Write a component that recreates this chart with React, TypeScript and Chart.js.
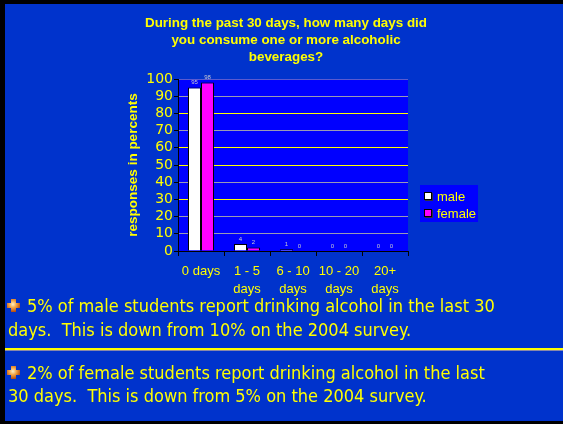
import React, { useEffect, useRef } from "react";
import { Chart, registerables } from "chart.js";

Chart.register(...registerables);

const categories: string[][] = [["0 days"], ["1 - 5", "days"], ["6 - 10", "days"], ["10 - 20", "days"], ["20+", "days"]];
const maleValues = [95, 4, 1, 0, 0];
const femaleValues = [98, 2, 0, 0, 0];
const seriesNames = ["male", "female"];
const titleLines = [
  "During the past 30 days, how many days did",
  "you consume one or more alcoholic",
  "beverages?",
];
const yAxisTitle = "responses in percents";
const yMin = 0;
const yMax = 100;
const yStep = 10;
const bullet1Lines = [
  "5% of male students report drinking alcohol in the last 30",
  "days.  This is down from 10% on the 2004 survey.",
];
const bullet2Lines = [
  "2% of female students report drinking alcohol in the last",
  "30 days.  This is down from 5% on the 2004 survey.",
];

const YELLOW = "#FFFF00";
const gridColorFor = (v: number) => {
  if (v === 0) return "rgba(0,0,0,0)";
  if (v === 100) return "#5A5AD0";
  if (v === 30 || v === 50 || v === 60 || v === 80) return "#FFFF00";
  return "#9A9AB4";
};

const bgPlugin = {
  id: "plotBg",
  beforeDraw(chart: any) {
    const { ctx, chartArea } = chart;
    ctx.save();
    ctx.fillStyle = "#0000FF";
    ctx.fillRect(chartArea.left, chartArea.top, chartArea.right - chartArea.left, chartArea.bottom - chartArea.top);
    ctx.restore();
  },
};

const valueLabelPlugin = {
  id: "valueLabels",
  afterDatasetsDraw(chart: any) {
    const { ctx } = chart;
    ctx.save();
    ctx.font = "6px 'Liberation Sans', Arial, sans-serif";
    ctx.fillStyle = "#C8C8D0";
    ctx.textAlign = "center";
    ctx.textBaseline = "middle";
    chart.data.datasets.forEach((ds: any, i: number) => {
      const meta = chart.getDatasetMeta(i);
      meta.data.forEach((bar: any, j: number) => {
        ctx.fillText(String(ds.data[j]), bar.x, bar.y - 5);
      });
    });
    ctx.restore();
  },
};

const titlePlugin = {
  id: "customTitle",
  afterDraw(chart: any) {
    const { ctx } = chart;
    ctx.save();
    ctx.font = "bold 13.4px 'Liberation Sans', Arial, sans-serif";
    ctx.fillStyle = YELLOW;
    ctx.textAlign = "center";
    ctx.textBaseline = "middle";
    titleLines.forEach((t, i) => ctx.fillText(t, 286, 23 + i * 17));
    ctx.restore();
  },
};

const legendPlugin = {
  id: "customLegend",
  afterDraw(chart: any) {
    const { ctx } = chart;
    const bx = 420, by = 185, bw = 58, bh = 37;
    ctx.save();
    ctx.fillStyle = "#0000FF";
    ctx.fillRect(bx, by, bw, bh);
    ctx.font = "13px 'Liberation Sans', Arial, sans-serif";
    ctx.textBaseline = "middle";
    ctx.textAlign = "left";
    chart.data.datasets.forEach((ds: any, i: number) => {
      const cy = by + 11 + i * 17;
      ctx.fillStyle = "#303040";
      ctx.fillRect(bx + 5, cy - 3, 8, 8);
      ctx.fillStyle = ds.backgroundColor;
      ctx.fillRect(bx + 4, cy - 4, 8, 8);
      ctx.strokeStyle = "#000";
      ctx.lineWidth = 1;
      ctx.strokeRect(bx + 4.5, cy - 3.5, 7, 7);
      ctx.fillStyle = YELLOW;
      ctx.fillText(ds.label, bx + 17, cy + 1);
    });
    ctx.restore();
  },
};

function Bullet({ id }: { id: string }) {
  return (
    <svg width="13" height="13" viewBox="0 0 13 13" style={{ position: "absolute", left: -1, top: 5 }}>
      <defs>
        <radialGradient id={id} cx="0.45" cy="0.4" r="0.65">
          <stop offset="0" stopColor="#FFF2C8" />
          <stop offset="0.45" stopColor="#F2A040" />
          <stop offset="1" stopColor="#A83C08" />
        </radialGradient>
      </defs>
      <path d="M4 0h5v4h4v5h-4v4h-5v-4h-4v-5h4z" fill={`url(#${id})`} />
    </svg>
  );
}

const textStyle: React.CSSProperties = {
  position: "absolute",
  left: 8,
  color: YELLOW,
  fontFamily: "'DejaVu Sans Condensed', 'DejaVu Sans', sans-serif",
  fontSize: 18,
  whiteSpace: "pre",
};

export default function App() {
  const ref = useRef<HTMLCanvasElement>(null);
  useEffect(() => {
    document.body.style.margin = "0";
    const chart = new Chart(ref.current as HTMLCanvasElement, {
      type: "bar",
      data: {
        labels: categories,
        datasets: [
          {
            label: seriesNames[0],
            data: maleValues,
            backgroundColor: "#FFFFFF",
            borderColor: "#000000",
            borderWidth: 1,
            categoryPercentage: 0.565,
            barPercentage: 1,
          },
          {
            label: seriesNames[1],
            data: femaleValues,
            backgroundColor: "#FF00FF",
            borderColor: "#000000",
            borderWidth: 1,
            categoryPercentage: 0.565,
            barPercentage: 1,
          },
        ],
      },
      options: {
        animation: false,
        responsive: false,
        devicePixelRatio: 1,
        layout: { padding: { top: 79, left: 121, right: 155, bottom: 0 } },
        plugins: {
          legend: { display: false },
          title: { display: false },
          tooltip: { enabled: false },
        },
        scales: {
          x: {
            grid: { display: true, drawOnChartArea: false, drawTicks: true, tickLength: 5, tickColor: "#000", offset: true },
            border: { color: "#000", width: 1 },
            ticks: {
              color: YELLOW,
              font: { family: "'Liberation Sans', Arial, sans-serif", size: 13, lineHeight: 1.35 },
              padding: 7,
              maxRotation: 0,
              autoSkip: false,
            },
            afterFit: (s: any) => {
              s.height = 49;
            },
          },
          y: {
            min: yMin,
            max: yMax,
            ticks: {
              stepSize: yStep,
              autoSkip: false,
              color: YELLOW,
              font: { family: "'DejaVu Sans', sans-serif", size: 14 },
              padding: 1,
            },
            grid: {
              color: (c: any) => gridColorFor(c.tick ? c.tick.value : -1),
              tickColor: "#000",
              tickLength: 4,
              lineWidth: 1,
            },
            border: { color: "#000", width: 1 },
            title: {
              display: true,
              text: yAxisTitle,
              color: YELLOW,
              font: { family: "'Liberation Sans', Arial, sans-serif", size: 13.5, weight: "bold" },
              padding: { top: 4, bottom: 0 },
            },
            afterFit: (s: any) => {
              s.width = 57;
            },
          },
        },
      },
      plugins: [bgPlugin, valueLabelPlugin, titlePlugin, legendPlugin],
    } as any);
    return () => chart.destroy();
  }, []);

  return (
    <div style={{ position: "absolute", left: 0, top: 0, width: 563, height: 424, background: "#000", overflow: "hidden" }}>
      <div style={{ position: "absolute", left: 5, top: 4, right: 0, bottom: 3, background: "#0033CC" }} />
      <canvas ref={ref} width={563} height={300} style={{ position: "absolute", left: 0, top: 0, width: 563, height: 300, display: "block" }} />
      <div style={{ ...textStyle, top: 294, lineHeight: "24px", textIndent: 19 }}>
        <Bullet id="b1" />
        {bullet1Lines[0]}
        <br />
        {bullet1Lines[1]}
      </div>
      <div style={{ position: "absolute", left: 5, right: 0, top: 348, height: 2, background: YELLOW }} />
      <div style={{ position: "absolute", left: 5, right: 0, top: 350, height: 1, background: "#8A8AA8" }} />
      <div style={{ ...textStyle, top: 361, lineHeight: "23px", textIndent: 19 }}>
        <Bullet id="b2" />
        {bullet2Lines[0]}
        <br />
        {bullet2Lines[1]}
      </div>
    </div>
  );
}
